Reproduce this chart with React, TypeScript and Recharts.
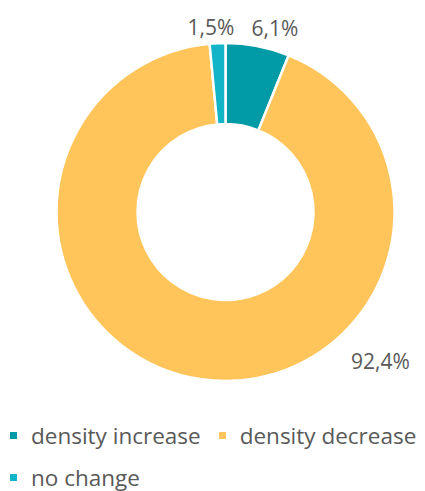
import { PieChart, Pie, Cell, Legend } from "recharts"

const names = ["density increase", "density decrease", "no change"]
const shares = [6.1, 92.4, 1.5]
const colors = ["#009BA6", "#FFC45A", "#14B4C8"]

const data = names.map((name, i) => ({ name, value: shares[i] }))

const TEXT = "#595959"
const FONT = "'Open Sans', sans-serif"

// label spots picked by hand to follow the reference (angle in deg, distance from centre)
const labelSpots = [
  { angle: 75, r: 191 },
  { angle: -43.9, r: 215 },
  { angle: 94.5, r: 186 }
]

const renderLabel = ({ cx, cy, index, value }: any) => {
  const RADIAN = Math.PI / 180
  const spot = labelSpots[index]
  const x = cx + spot.r * Math.cos(spot.angle * RADIAN)
  const y = cy - spot.r * Math.sin(spot.angle * RADIAN)
  return (
    <text
      x={x}
      y={y}
      fill={TEXT}
      textAnchor="middle"
      dominantBaseline="central"
      style={{ fontFamily: FONT, fontSize: 21 }}
    >
      {String(value.toFixed(1)).replace(".", ",")}%
    </text>
  )
}

const renderLegend = () => (
  <div
    style={{
      display: "flex",
      flexWrap: "wrap",
      width: 420,
      paddingLeft: 10,
      boxSizing: "border-box",
      fontFamily: FONT,
      fontSize: 22.5,
      color: TEXT,
      rowGap: 12,
      columnGap: 18,
      whiteSpace: "nowrap"
    }}
  >
    {names.map((name, i) => (
      <div key={name} style={{ display: "flex", alignItems: "center", height: 30 }}>
        <span style={{ width: 7, height: 7, background: colors[i], marginRight: 14, display: "inline-block" }} />
        <span>{name}</span>
      </div>
    ))}
  </div>
)

export default function App() {
  return (
    <div style={{ position: "absolute", left: 0, top: 0 }}>
      <PieChart width={425} height={491} margin={{ top: 0, right: 0, bottom: 0, left: 0 }}>
        <Pie
          data={data}
          dataKey="value"
          cx={225.5}
          cy={212}
          innerRadius={88}
          outerRadius={169}
          startAngle={90}
          endAngle={-270}
          stroke="#ffffff"
          strokeWidth={2.5}
          label={renderLabel}
          labelLine={false}
          isAnimationActive={false}
        >
          {data.map((entry, i) => (
            <Cell key={`cell-${entry.name}`} fill={colors[i]} />
          ))}
        </Pie>
        <Legend
          content={renderLegend}
          wrapperStyle={{ position: "absolute", left: 0, top: 420, width: 425 }}
        />
      </PieChart>
    </div>
  )
}
